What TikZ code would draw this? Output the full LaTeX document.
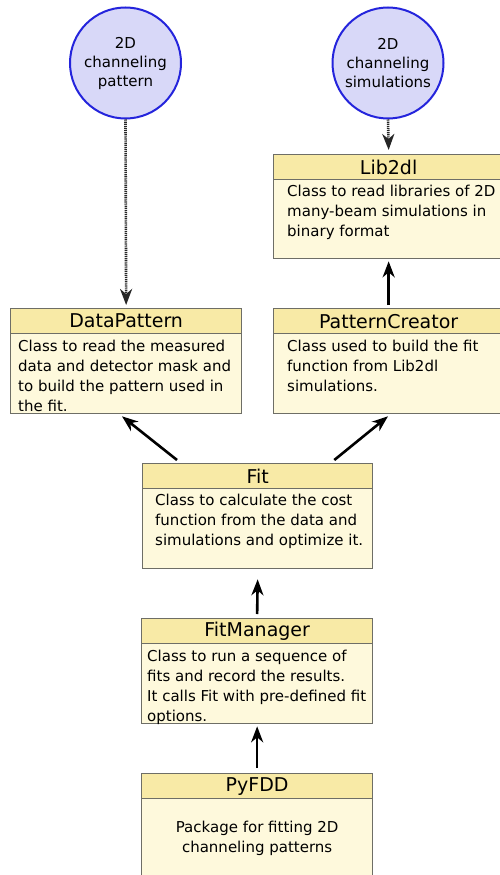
\documentclass[tikz,border=0pt]{standalone}
\usepackage{fontspec}
\setmainfont{DejaVu Sans}
\usetikzlibrary{arrows.meta,calc}
\definecolor{hdrfill}{HTML}{F8EAA6}
\definecolor{bodyfill}{HTML}{FEF9DC}
\definecolor{boxgray}{HTML}{6E6E66}
\definecolor{circfill}{HTML}{D8D8F8}
\definecolor{circblue}{HTML}{2424DC}
\tikzset{
  circ/.style={circle, draw=circblue, fill=circfill, line width=2pt, minimum size=111pt, inner sep=0pt, align=center, font=\fontsize{15}{19}\selectfont},
  bodybox/.style={rectangle, draw=boxgray, fill=bodyfill, line width=1.3pt, anchor=north west, inner sep=0pt},
  hdrbox/.style={rectangle, draw=boxgray, fill=hdrfill, line width=1.3pt, anchor=north west, inner sep=0pt, minimum height=25pt, font=\fontsize{19}{22}\selectfont},
  txt/.style={anchor=north west, inner sep=0pt, align=left, font=\fontsize{15}{20}\selectfont},
  arr/.style={-{Stealth[length=16pt,width=12pt,inset=5pt]}, line width=2.6pt, black},
  dotarr/.style={arr, dash pattern=on 1.2pt off 0.9pt, black!85}
}
\begin{document}
\begin{tikzpicture}[x=1pt,y=-1pt]
\useasboundingbox (0,0) rectangle (500,875);
% circles
\node[circ] (c1) at (125.5,63) {2D\\channeling\\pattern};
\node[circ] (c2) at (388,63) {2D\\channeling\\simulations};
% Lib2dl
\node[bodybox, minimum width=230pt, minimum height=104pt] (lib) at (273,154) {};
\node[hdrbox, minimum width=230pt] (libh) at (273,154) {Lib2dl};
\node[txt] (libt) at ($(lib.north west)+(14,31)$) {Class to read libraries of 2D\\many-beam simulations in\\binary format};
% DataPattern
\node[bodybox, minimum width=231pt, minimum height=105pt] (dp) at (10,308) {};
\node[hdrbox, minimum width=231pt] (dph) at (10,308) {DataPattern};
\node[txt] (dpt) at ($(dp.north west)+(8,32)$) {Class to read the measured\\data and detector mask and\\to build the pattern used in\\the fit.};
% PatternCreator
\node[bodybox, minimum width=230pt, minimum height=105pt] (pc) at (273,308) {};
\node[hdrbox, minimum width=230pt] (pch) at (273,308) {PatternCreator};
\node[txt] (pct) at ($(pc.north west)+(14,32)$) {Class used to build the fit\\function from Lib2dl\\simulations.};
% Fit
\node[bodybox, minimum width=230pt, minimum height=105pt] (fit) at (142,463) {};
\node[hdrbox, minimum width=230pt] (fith) at (142,463) {Fit};
\node[txt] (fitt) at ($(fit.north west)+(13,31)$) {Class to calculate the cost\\function from the data and\\simulations and optimize it.};
% FitManager
\node[bodybox, minimum width=231pt, minimum height=105pt] (fm) at (141,618) {};
\node[hdrbox, minimum width=231pt] (fmh) at (141,618) {FitManager};
\node[txt] (fmt) at ($(fm.north west)+(6,32)$) {Class to run a sequence of\\fits and record the results.\\It calls Fit with pre-defined fit\\options.};
% PyFDD
\node[bodybox, minimum width=231pt, minimum height=115pt] (py) at (141,773) {};
\node[hdrbox, minimum width=231pt] (pyh) at (141,773) {PyFDD};
\node[anchor=north, inner sep=0pt, align=center, font=\fontsize{15}{20}\selectfont] (pyt) at ($(py.north)+(0,48)$) {Package for fitting 2D\\channeling patterns};
% connectors
\draw[dotarr] (c1.south) -- ($(dp.north)+(0,-3)$);
\draw[dotarr] (c2.south) -- ($(lib.north)+(0,-4)$);
\draw[arr] ($(pc.north)+(0,-3)$) -- ($(lib.south)+(0,2)$);
\draw[arr] ($(fit.north west)+(35,-3)$) -- ($(dp.south west)+(112,2)$);
\draw[arr] ($(fit.north east)+(-39,-3)$) -- ($(pc.south west)+(115,2)$);
\draw[arr] ($(fm.north)+(0,-4)$) -- ($(fit.south)+(0,10)$);
\draw[arr] ($(py.north)+(0,-5)$) -- ($(fm.south)+(0,2)$);
\end{tikzpicture}
\end{document}
